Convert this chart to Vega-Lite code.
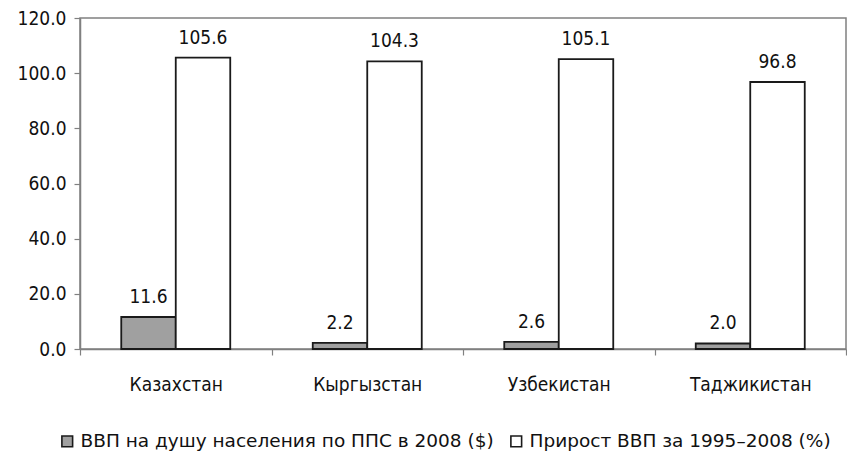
{
  "$schema": "https://vega.github.io/schema/vega-lite/v6.json",
  "width": 766,
  "height": 331,
  "autosize": {"type": "none"},
  "padding": {"left": 80, "top": 18, "right": 1, "bottom": 104},
  "background": "white",
  "config": {
    "font": "DejaVu Sans Condensed",
    "view": {"stroke": "#808080", "strokeWidth": 1.5},
    "axis": {"domainColor": "#808080", "tickColor": "#808080", "domainWidth": 1.5, "tickWidth": 1.2}
  },
  "data": {
    "values": [
      {"country": "Казахстан", "series": "ВВП на душу населения по ППС в 2008 ($)", "value": 11.6},
      {"country": "Казахстан", "series": "Прирост ВВП за 1995–2008 (%)", "value": 105.6},
      {"country": "Кыргызстан", "series": "ВВП на душу населения по ППС в 2008 ($)", "value": 2.2},
      {"country": "Кыргызстан", "series": "Прирост ВВП за 1995–2008 (%)", "value": 104.3},
      {"country": "Узбекистан", "series": "ВВП на душу населения по ППС в 2008 ($)", "value": 2.6},
      {"country": "Узбекистан", "series": "Прирост ВВП за 1995–2008 (%)", "value": 105.1},
      {"country": "Таджикистан", "series": "ВВП на душу населения по ППС в 2008 ($)", "value": 2.0},
      {"country": "Таджикистан", "series": "Прирост ВВП за 1995–2008 (%)", "value": 96.8}
    ]
  },
  "encoding": {
    "x": {
      "field": "country",
      "type": "nominal",
      "sort": null,
      "scale": {"paddingInner": 0, "paddingOuter": 0},
      "axis": {
        "title": null,
        "labelAngle": 0,
        "tickBand": "extent",
        "tickSize": 6,
        "labelFontSize": 19,
        "labelColor": "#111",
        "labelPadding": 20
      }
    },
    "xOffset": {
      "field": "series",
      "type": "nominal",
      "sort": null,
      "scale": {"paddingInner": 0, "paddingOuter": 0.757}
    },
    "y": {
      "field": "value",
      "type": "quantitative",
      "scale": {"domain": [0, 120]},
      "axis": {
        "title": null,
        "values": [0, 20, 40, 60, 80, 100, 120],
        "format": ".1f",
        "grid": false,
        "tickSize": 6,
        "labelPadding": 8,
        "labelFontSize": 19,
        "labelColor": "#111"
      }
    }
  },
  "layer": [
    {
      "mark": {"type": "bar", "stroke": "#1a1a1a", "strokeWidth": 1.8},
      "encoding": {
        "fill": {
          "field": "series",
          "type": "nominal",
          "sort": null,
          "scale": {"range": ["#a0a0a0", "#ffffff"]},
          "legend": {
            "title": null,
            "orient": "none",
            "direction": "horizontal",
            "legendX": -22,
            "legendY": 414,
            "symbolType": "square",
            "symbolSize": 115,
            "symbolStrokeColor": "#1a1a1a",
            "symbolStrokeWidth": 1.6,
            "labelFont": "DejaVu Sans",
            "labelFontSize": 18.5,
            "labelColor": "#111",
            "labelLimit": 500,
            "labelOffset": 4,
            "columnPadding": 13,
            "symbolOffset": 0
          }
        }
      }
    },
    {
      "mark": {"type": "text", "baseline": "bottom", "dy": -10, "fontSize": 19, "color": "#111"},
      "encoding": {
        "text": {"field": "value", "type": "quantitative", "format": ".1f"}
      }
    }
  ]
}
